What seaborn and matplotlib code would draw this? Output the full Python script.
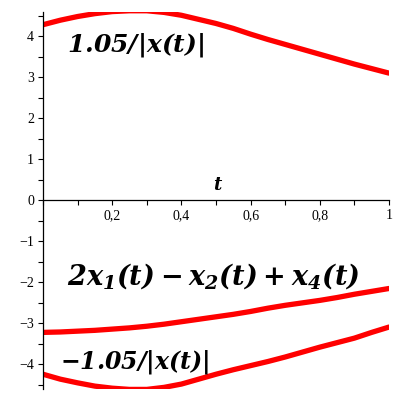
import matplotlib
matplotlib.use('Agg')
import matplotlib.pyplot as plt
from matplotlib.ticker import FixedLocator, MultipleLocator
import seaborn as sns
import pandas as pd

# values
t = [0.0, 0.05, 0.1, 0.15, 0.2, 0.25, 0.3, 0.35, 0.4, 0.45, 0.5,
     0.55, 0.6, 0.65, 0.7, 0.75, 0.8, 0.85, 0.9, 0.95, 1.0]
upper = [4.28, 4.39, 4.48, 4.55, 4.60, 4.62, 4.62, 4.58, 4.51, 4.41, 4.31,
         4.19, 4.05, 3.92, 3.80, 3.68, 3.56, 3.44, 3.32, 3.21, 3.10]
middle = [-3.22, -3.21, -3.19, -3.17, -3.14, -3.11, -3.07, -3.02, -2.96, -2.90, -2.84,
          -2.78, -2.71, -2.63, -2.56, -2.50, -2.44, -2.37, -2.29, -2.22, -2.15]
lower = [-4.24, -4.36, -4.45, -4.53, -4.58, -4.61, -4.61, -4.56, -4.48, -4.36, -4.24,
         -4.13, -4.03, -3.93, -3.82, -3.70, -3.58, -3.47, -3.36, -3.22, -3.09]

xticks = [0.2, 0.4, 0.6, 0.8, 1.0]
xlabels = ['0,2', '0,4', '0,6', '0,8', '1']
yticks = [-4, -3, -2, -1, 0, 1, 2, 3, 4]
ylabels = ['\u22124', '\u22123', '\u22122', '\u22121', '0', '1', '2', '3', '4']

df = pd.DataFrame({'t': t, 'upper': upper, 'middle': middle, 'lower': lower})

sns.set_style('ticks')
plt.rcParams['font.family'] = ['Liberation Serif', 'DejaVu Serif']
plt.rcParams['text.color'] = 'black'
plt.rcParams['xtick.color'] = 'black'
plt.rcParams['ytick.color'] = 'black'
plt.rcParams['mathtext.fontset'] = 'custom'
plt.rcParams['mathtext.rm'] = 'DejaVu Serif:bold:italic'
plt.rcParams['mathtext.it'] = 'DejaVu Serif:bold:italic'
plt.rcParams['mathtext.bf'] = 'DejaVu Serif:bold:italic'

fig = plt.figure(figsize=(4, 4), dpi=100)
ax = fig.add_axes([0.1075, 0.0275, 0.865, 0.9425])

for col in ['upper', 'middle', 'lower']:
    sns.lineplot(data=df, x='t', y=col, ax=ax, color='#ff0000', linewidth=3.8)

ax.set_xlim(0, 1)
ax.set_ylim(-4.6, 4.59)
ax.set_xlabel('')
ax.set_ylabel('')

ax.spines['top'].set_visible(False)
ax.spines['right'].set_visible(False)
ax.spines['bottom'].set_position(('data', 0))
ax.spines['left'].set_position(('data', 0))
for s in ['bottom', 'left']:
    ax.spines[s].set_linewidth(0.9)
    ax.spines[s].set_color('black')

ax.xaxis.set_major_locator(FixedLocator(xticks))
ax.set_xticklabels(xlabels)
ax.xaxis.set_minor_locator(MultipleLocator(0.1))
ax.yaxis.set_major_locator(FixedLocator(yticks))
ax.set_yticklabels(ylabels)
ax.yaxis.set_minor_locator(MultipleLocator(0.5))
ax.tick_params(which='both', direction='out', length=3.5, width=0.8,
               labelsize=10, pad=3, color='black', labelcolor='black')

ax.text(0.505, 0.35, '$t$', fontsize=13, ha='center', va='center')
ax.text(0.07, 3.78, '$1.05/|x(t)|$', fontsize=18, ha='left', va='center')
ax.text(0.07, -1.85, '$2x_1(t) - x_2(t) + x_4(t)$', fontsize=19.5,
        ha='left', va='center')
ax.text(0.05, -3.95, '$-1.05/|x(t)|$', fontsize=17, ha='left', va='center')

fig.savefig('out.png', dpi=100)
plt.close(fig)
